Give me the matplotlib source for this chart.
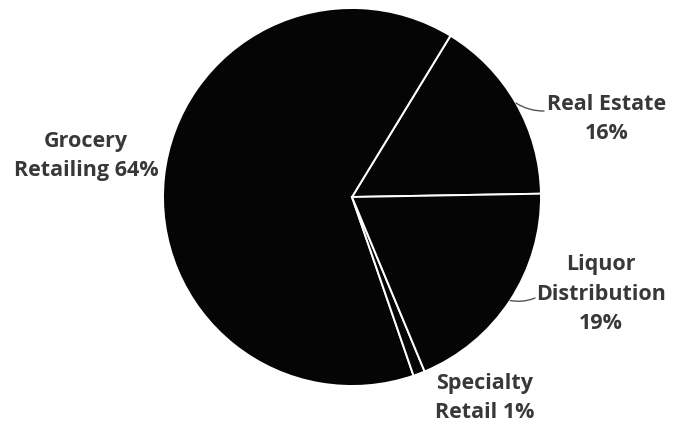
import numpy as np
import matplotlib.pyplot as plt

# segment shares of revenue
segments = ['Real Estate', 'Grocery Retailing', 'Specialty Retail', 'Liquor Distribution']
shares = [16, 64, 1, 19]

label_text = ['Real Estate\n16%', 'Grocery\nRetailing 64%', 'Specialty\nRetail 1%', 'Liquor\nDistribution\n19%']
label_pos = [(607, 306), (86, 269), (485, 27), (601, 131)]
# where the leader line meets the label (None = no leader)
leader_end = [(544, 314), None, None, (535, 127)]

fig = plt.figure(figsize=(6.81, 4.25), dpi=100)
ax = fig.add_axes([0, 0, 1, 1])

wedges, _ = ax.pie(shares, startangle=1, counterclock=True, radius=189,
                   center=(352, 228), colors=['#050505'] * 4,
                   wedgeprops=dict(edgecolor='white', linewidth=1.4))
ax.set_xlim(0, 681)
ax.set_ylim(0, 425)
ax.set_aspect('equal')
ax.axis('off')

txt_color = '#383838'
for w, txt, pos, end in zip(wedges, label_text, label_pos, leader_end):
    ang = np.deg2rad((w.theta1 + w.theta2) / 2)
    edge = (w.center[0] + w.r * np.cos(ang), w.center[1] + w.r * np.sin(ang))
    ax.text(pos[0], pos[1], txt, ha='center', va='center', fontsize=15.5,
            fontweight='bold', family='Open Sans', color=txt_color,
            linespacing=1.55)
    if end is not None:
        ax.annotate('', xy=edge, xytext=end,
                    arrowprops=dict(arrowstyle='-', color='#555555', lw=1,
                                    connectionstyle='arc3,rad=-0.15',
                                    shrinkA=0, shrinkB=0))

fig.savefig('out.png', dpi=100, facecolor='white')
